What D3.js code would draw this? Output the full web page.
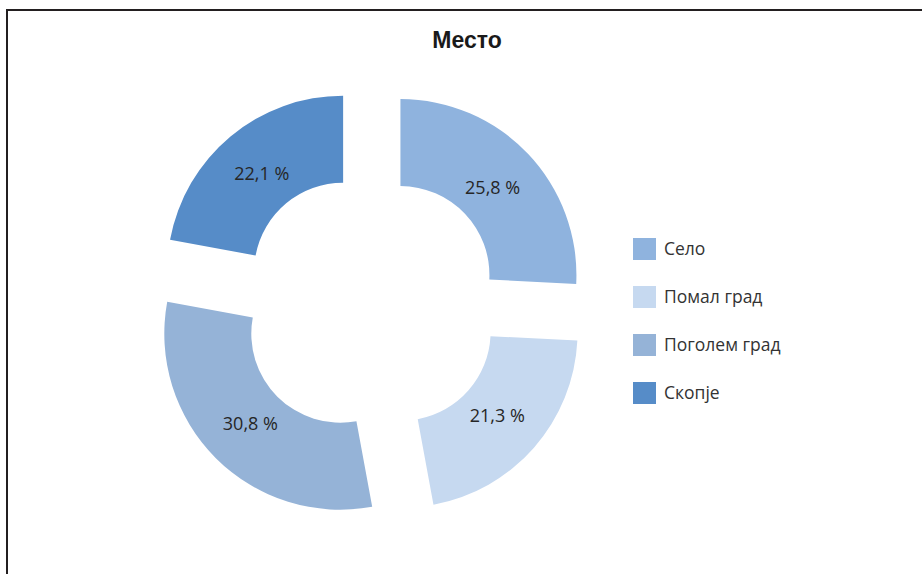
<!DOCTYPE html>
<meta charset="utf-8">
<head>
  <title>Место</title>
</head>
<style>
body {
  margin: 0;
  background: #fff;
}
.title {
  font-family: "Liberation Sans", Arial, sans-serif;
  font-weight: bold;
  font-size: 23px;
  fill: #1a1a1a;
}
.lbl {
  font-family: "Open Sans", sans-serif;
  font-size: 18px;
  fill: #262626;
}
.legend text {
  font-family: "Open Sans", sans-serif;
  font-size: 17.5px;
  fill: #333;
}
</style>
<body>
<script src="https://d3js.org/d3.v7.min.js"></script>
<script>

// data
var categories = ["Село", "Помал град", "Поголем град", "Скопје"];
var values = [25.8, 21.3, 30.8, 22.1];
var colours = ["#8fb3de", "#c6d9f0", "#95b3d7", "#568cc8"];

var w = 922, h = 574;
var cx = 370, cy = 304   // centre of the ring
  , outerR = 176
  , innerR = 89
  , explode = 42;

var svg = d3.select("body")
  .append("svg")
  .attr("width", w)
  .attr("height", h);

// frame (runs off the right and bottom edge)
svg.append("rect")
  .attr("x", 7)
  .attr("y", 10)
  .attr("width", w + 20)
  .attr("height", h + 20)
  .attr("fill", "none")
  .attr("stroke", "#231f20")
  .attr("stroke-width", 2);

svg.append("text")
  .attr("class", "title")
  .attr("x", 467)
  .attr("y", 48)
  .attr("text-anchor", "middle")
  .text("Место");

var colour = d3.scaleOrdinal()
  .domain(categories)
  .range(colours);

var pie = d3.pie()
  .sort(null)
  .value(function(d) { return d.v; });

var arc = d3.arc()
  .innerRadius(innerR)
  .outerRadius(outerR);

var rows = categories.map(function(c, i) { return {name: c, v: values[i]}; });
var arcs = pie(rows);

function shift(d) {
  var mid = (d.startAngle + d.endAngle) / 2;
  return [cx + explode * Math.sin(mid), cy - explode * Math.cos(mid)];
}

var slice = svg.selectAll("g.slice")
  .data(arcs)
  .enter()
  .append("g")
  .attr("class", "slice")
  .attr("transform", function(d) { return "translate(" + shift(d) + ")"; });

slice.append("path")
  .attr("d", arc)
  .attr("fill", function(d) { return colour(d.data.name); });

slice.append("text")
  .attr("class", "lbl")
  .attr("transform", function(d) {
    var c = arc.centroid(d);
    return "translate(" + [c[0] * 0.96, c[1] * 0.96] + ")";
  })
  .attr("text-anchor", "middle")
  .attr("dy", "0.35em")
  .text(function(d) { return d.data.v.toFixed(1).replace(".", ",") + " %"; });

// legend
var ly = d3.scalePoint()
  .domain(categories)
  .range([249, 393]);

var legend = svg.append("g")
  .attr("class", "legend")
  .selectAll("g")
  .data(categories)
  .enter()
  .append("g")
  .attr("transform", function(d) { return "translate(633," + ly(d) + ")"; });

legend.append("rect")
  .attr("x", 0)
  .attr("y", -11)
  .attr("width", 23)
  .attr("height", 22)
  .attr("fill", function(d) { return colour(d); });

legend.append("text")
  .attr("x", 31)
  .attr("dy", "0.35em")
  .text(function(d) { return d; });

</script>
</body>
</html>
